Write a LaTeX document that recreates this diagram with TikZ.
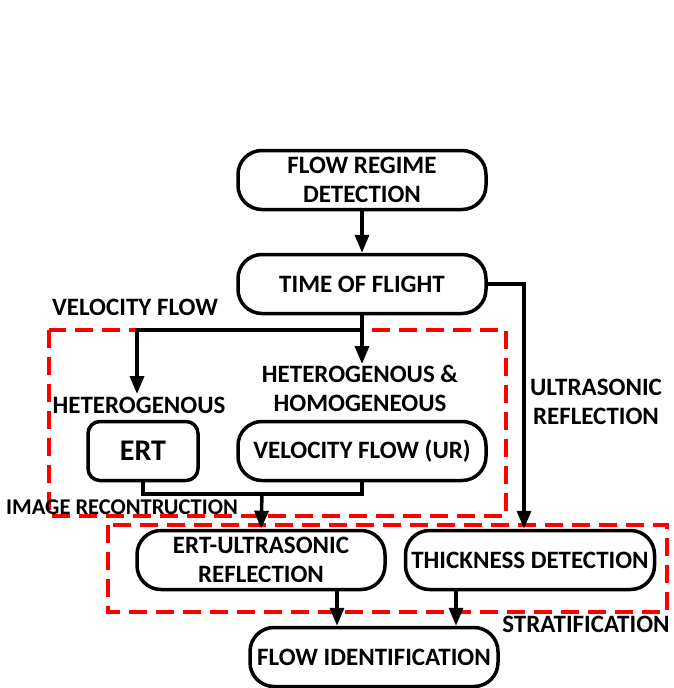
\documentclass[tikz,border=0pt]{standalone}
\usepackage{fontspec}
\setmainfont{Carlito}
\usetikzlibrary{arrows.meta}

\begin{document}
\begin{tikzpicture}[x=1pt, y=-1pt, >={Triangle[length=18pt,width=14pt]},
  font=\fontsize{25}{29}\selectfont\bfseries,
  box/.style={draw, line width=3.5pt, rounded corners=24pt, minimum width=248pt,
    minimum height=59pt, align=center, inner sep=0pt},
  lbl/.style={inner sep=0pt, align=center},
  frame/.style={draw=red, line width=3.3pt, dash pattern=on 18pt off 9pt},
  conn/.style={line width=3.5pt}]
  \useasboundingbox (0,0) rectangle (674,688);

  % gruppi tratteggiati
  \draw[frame] (49,330) rectangle (506,516);
  \draw[frame] (108,525) rectangle (667,612);

  % blocchi
  \node[box] (frd) at (362,180) {FLOW REGIME\\DETECTION};
  \node[box] (tof) at (362,284) {TIME OF FLIGHT};
  \node[box, rounded corners=12pt, minimum width=110pt,
    font=\fontsize{30}{30}\selectfont\bfseries] (ert) at (143,451) {ERT};
  \node[box] (vf) at (362,451) {VELOCITY FLOW (UR)};
  \node[box] (ertus) at (261,560) {ERT-ULTRASONIC\\REFLECTION};
  \node[box, minimum width=249pt] (thick) at (530,560) {THICKNESS DETECTION};
  \node[box] (flowid) at (374,657) {FLOW IDENTIFICATION};

  % etichette
  \node[lbl] (velflow) at (135,307) {VELOCITY FLOW};
  \node[lbl] (hetlbl) at (139,405) {HETEROGENOUS};
  \node[lbl] (homlbl) at (360,388) {HETEROGENOUS \&\\HOMOGENEOUS};
  \node[lbl, font=\fontsize{22.5}{27}\selectfont\bfseries] (imglbl) at (122,507) {IMAGE RECONTRUCTION};
  \node[lbl] (usrefl) at (596,402) {ULTRASONIC\\REFLECTION};
  \node[lbl] (stratlbl) at (586,624) {STRATIFICATION};

  % collegamenti
  \coordinate (split) at (362,330);
  \coordinate (hetin) at (137,394);
  \coordinate (homin) at (362,364);
  \coordinate (join) at (262,494);
  \draw[conn,->] (frd) -- (tof);
  \draw[conn,->] (tof.south) -- (split) -| (hetin);
  \draw[conn,->] (split) -- (homin);
  \draw[conn] (ert.south) |- (join) -| (vf.south);
  \draw[conn,->] (join) -- (ertus.north);
  \draw[conn,->] (tof.east) -| ([xshift=-6pt]thick.north);
  \draw[conn,->] ([xshift=76pt]ertus.south) -- ([xshift=76pt]ertus.south |- flowid.north);
  \draw[conn,->] ([xshift=-74pt]thick.south) -- ([xshift=-74pt]thick.south |- flowid.north);
\end{tikzpicture}
\end{document}
